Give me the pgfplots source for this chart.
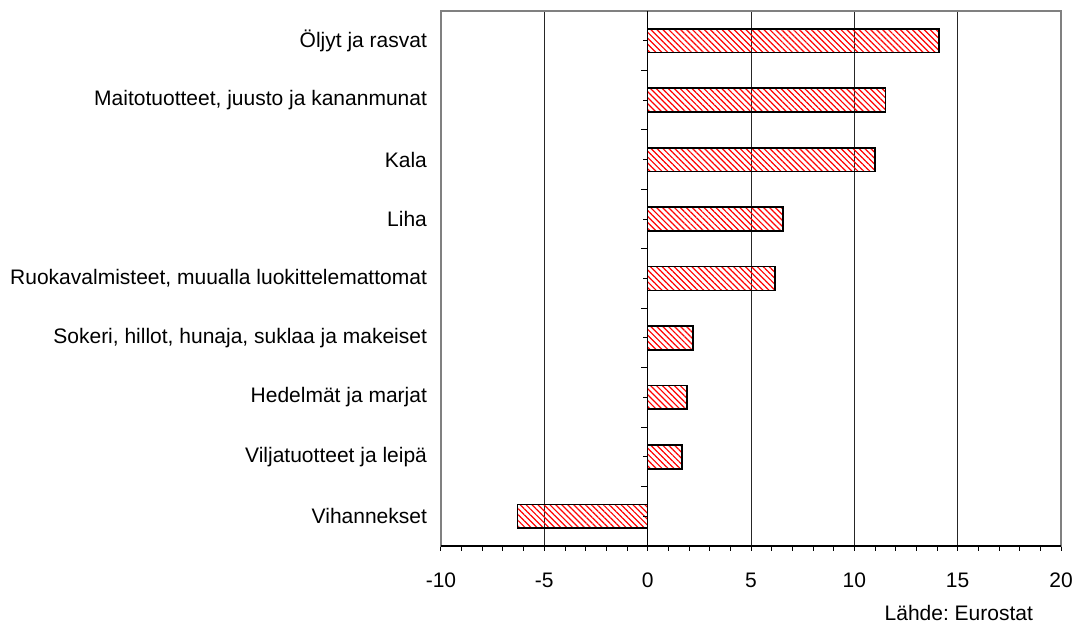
\documentclass[border=0pt]{standalone}
\usepackage{fontspec}
\setmainfont{Liberation Sans}
\usepackage{pgfplots}
\pgfplotsset{compat=1.18}
\usetikzlibrary{patterns.meta}
\newcommand{\lbl}{\fontsize{10.5}{12}\selectfont}
\frenchspacing
\begin{document}
\begin{tikzpicture}
\begin{axis}[
  scale only axis,
  width=310pt,
  height=267.5pt,
  xbar,
  bar width=0.4,
  xmin=-10, xmax=20,
  ymin=-0.5, ymax=8.5,
  xtick={-10,-5,0,5,10,15,20},
  xticklabels={-10,-5,0,5,10,15,20},
  minor x tick num=4,
  xtick pos=bottom,
  tick align=outside,
  major tick length=2.5pt,
  minor tick length=2.5pt,
  every tick/.style={black, line width=0.5pt},
  xmajorgrids,
  major grid style={black!85, line width=0.5pt},
  ytick={0,1,2,3,4,5,6,7,8},
  yticklabels={Vihannekset,Viljatuotteet ja leipä,Hedelmät ja marjat,{Sokeri, hillot, hunaja, suklaa ja makeiset},{Ruokavalmisteet, muualla luokittelemattomat},Liha,Kala,{Maitotuotteet, juusto ja kananmunat},Öljyt ja rasvat},
  ytick style={draw=none},
  y tick label style={font=\lbl, xshift=-1pt},
  x tick label style={font=\lbl, yshift=-7.5pt},
  axis line style={black!50, line width=0.6pt},
  clip=false,
]
\addplot[
  draw=black,
  line width=0.8pt,
  pattern={Lines[angle=-45, distance=2.1pt, line width=0.6pt]},
  pattern color=red,
] coordinates {
  (-6.3,0)
  (1.65,1)
  (1.9,2)
  (2.2,3)
  (6.15,4)
  (6.55,5)
  (11.0,6)
  (11.5,7)
  (14.1,8)
};
\draw[black, line width=0.6pt] (axis cs:0,-0.5) -- (axis cs:0,8.5);
\draw[black, line width=0.6pt] (axis cs:-10,-0.5) -- (axis cs:20,-0.5);
\pgfplotsinvokeforeach{0,1,2,3,4,5,6,7,8}{
  \draw[black, line width=0.5pt] (axis cs:0,#1) -- ([xshift=-2.5pt]axis cs:0,#1);
}
\pgfplotsinvokeforeach{-0.5,0.5,1.5,2.5,3.5,4.5,5.5,6.5,7.5}{
  \draw[black, line width=0.5pt] (axis cs:0,#1) -- ([xshift=-3.5pt]axis cs:0,#1);
}
\node[anchor=base east, font=\lbl] at ([xshift=-10.5pt, yshift=-37.5pt]rel axis cs:1,0) {Lähde: Eurostat};
\path ([xshift=-220.5pt, yshift=-43pt]rel axis cs:0,0) coordinate (bl);
\path ([xshift=6pt, yshift=5.5pt]rel axis cs:1,1) coordinate (tr);
\end{axis}
\pgfresetboundingbox
\useasboundingbox (bl) rectangle (tr);
\end{tikzpicture}
\end{document}
